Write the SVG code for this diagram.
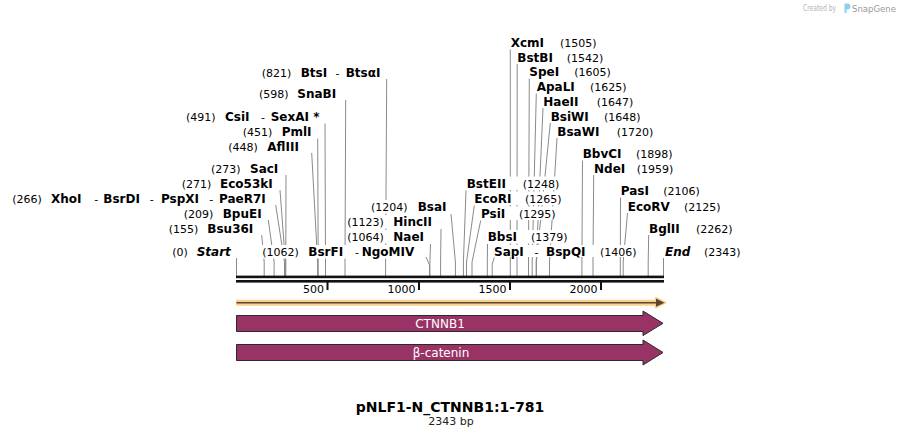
<svg xmlns="http://www.w3.org/2000/svg" width="901" height="437" viewBox="0 0 901 437">
<style>
text{font-family:"DejaVu Sans",Verdana,sans-serif;fill:#000}
.n{font-size:12px;font-weight:bold}
.p{font-size:11px}
.it{font-style:italic}
.ko{fill:#fff}
.ln{stroke:#8a8a8a;stroke-width:1;fill:none}
.tk{font-size:11px;text-anchor:end}
.feat{fill:#993366;stroke:#2a2a2a;stroke-width:1}
.ft{font-size:12px;fill:#fff;text-anchor:middle}
</style>
<rect width="901" height="437" fill="#fff"/>
<g id="watermark">
<text x="803" y="11" textLength="33" lengthAdjust="spacingAndGlyphs" style="font-size:8.5px;fill:#b4b4b4">Created by</text>
<path d="M844.5,3.5 h3 a3,3 0 0 1 0,6 h-1 v3.5 h-2 z" fill="#8fd0f0"/>
<text x="852" y="11.5" textLength="44" lengthAdjust="spacingAndGlyphs" style="font-size:9.5px;fill:#9a9a9a">SnapGene</text>
</g>
<g id="connectors">
<polyline class="ln" points="386.7,79 385.6,262 385.6,276"/>
<polyline class="ln" points="345.7,100 345,262 345,276"/>
<polyline class="ln" points="325,123.5 325.5,262 325.5,276"/>
<polyline class="ln" points="317.7,138.5 318.2,262 318.2,276"/>
<polyline class="ln" points="311.7,153 317.6,262 317.6,276"/>
<polyline class="ln" points="286,175 285.8,262 285.8,276"/>
<polyline class="ln" points="280,190 285.4,262 285.4,276"/>
<polyline class="ln" points="275.7,205 284.5,262 284.5,276"/>
<polyline class="ln" points="268.3,220 274.1,262 274.1,276"/>
<polyline class="ln" points="261.7,235 264.2,262 264.2,276"/>
<polyline class="ln" points="236.5,258 236.5,276"/>
<polyline class="ln" points="426,257 429.5,265 429.5,276"/>
<polyline class="ln" points="430.5,244 429.9,262 429.9,276"/>
<polyline class="ln" points="441,229 440.6,262 440.6,276"/>
<polyline class="ln" points="451,214 455.4,262 455.4,276"/>
<polyline class="ln" points="466,190.5 463.4,262 463.4,276"/>
<polyline class="ln" points="474.3,205.5 466.5,262 466.5,276"/>
<polyline class="ln" points="480.7,220.5 472,262 472,276"/>
<polyline class="ln" points="487.5,244 487.3,262 487.3,276"/>
<polyline class="ln" points="494.3,257.5 492.2,264 492.2,276"/>
<polyline class="ln" points="510.3,49.5 510.3,276"/>
<polyline class="ln" points="517.2,64 517,262 517,276"/>
<polyline class="ln" points="529.3,78.5 528.5,262 528.5,276"/>
<polyline class="ln" points="536.3,93.5 532.2,262 532.2,276"/>
<polyline class="ln" points="543,108 536.2,262 536.2,276"/>
<polyline class="ln" points="550.3,123 536.4,262 536.4,276"/>
<polyline class="ln" points="557,138 549.5,262 549.5,276"/>
<polyline class="ln" points="582.5,160.5 581.9,262 581.9,276"/>
<polyline class="ln" points="593.7,175 593,262 593,276"/>
<polyline class="ln" points="620.5,197.5 620.3,262 620.3,276"/>
<polyline class="ln" points="627.5,213 623.2,262 623.2,276"/>
<polyline class="ln" points="648.7,235 648.2,262 648.2,276"/>
<polyline class="ln" points="663.5,258 663.5,276"/>
</g>
<g id="lbl-BtsI"><rect class="ko" x="260" y="66" width="122" height="13.5"/><text y="77"><tspan class="p" x="261.7">(821)</tspan><tspan class="n" x="300.7">BtsI</tspan><tspan class="p" x="335.5">-</tspan><tspan class="n" x="345.7">BtsαI</tspan></text></g>
<g id="lbl-SnaBI"><rect class="ko" x="258" y="87" width="80" height="13.5"/><text y="98"><tspan class="p" x="259">(598)</tspan><tspan class="n" x="297.3">SnaBI</tspan></text></g>
<g id="lbl-CsiI"><rect class="ko" x="185" y="110" width="137" height="13.5"/><text y="121"><tspan class="p" x="186">(491)</tspan><tspan class="n" x="225">CsiI</tspan><tspan class="p" x="261">-</tspan><tspan class="n" x="270.7">SexAI *</tspan></text></g>
<g id="lbl-PmlI"><rect class="ko" x="241" y="125" width="73" height="13.5"/><text y="136"><tspan class="p" x="242.7">(451)</tspan><tspan class="n" x="281.7">PmlI</tspan></text></g>
<g id="lbl-AflIII"><rect class="ko" x="227" y="140" width="79" height="13.5"/><text y="151"><tspan class="p" x="228.3">(448)</tspan><tspan class="n" x="267.3">AflIII</tspan></text></g>
<g id="lbl-SacI"><rect class="ko" x="210" y="162" width="72" height="13.5"/><text y="173"><tspan class="p" x="211">(273)</tspan><tspan class="n" x="250">SacI</tspan></text></g>
<g id="lbl-Eco53kI"><rect class="ko" x="180" y="177" width="96" height="13.5"/><text y="188"><tspan class="p" x="181.7">(271)</tspan><tspan class="n" x="220">Eco53kI</tspan></text></g>
<g id="lbl-XhoI"><rect class="ko" x="11" y="192" width="258" height="13.5"/><text y="203"><tspan class="p" x="12.3">(266)</tspan><tspan class="n" x="51">XhoI</tspan><tspan class="p" x="94.3">-</tspan><tspan class="n" x="103.3">BsrDI</tspan><tspan class="p" x="149.7">-</tspan><tspan class="n" x="161">PspXI</tspan><tspan class="p" x="209.3">-</tspan><tspan class="n" x="219">PaeR7I</tspan></text></g>
<g id="lbl-BpuEI"><rect class="ko" x="182" y="207" width="81" height="13.5"/><text y="218"><tspan class="p" x="183.7">(209)</tspan><tspan class="n" x="222.7">BpuEI</tspan></text></g>
<g id="lbl-Bsu36I"><rect class="ko" x="167" y="222" width="90" height="13.5"/><text y="233"><tspan class="p" x="168.7">(155)</tspan><tspan class="n" x="207.3">Bsu36I</tspan></text></g>
<g id="lbl-Start"><rect class="ko" x="171" y="245" width="61" height="13.5"/><text y="256"><tspan class="p" x="172.3">(0)</tspan><tspan class="n it" x="196.7">Start</tspan></text></g>
<g id="lbl-NgoMIV"><rect class="ko" x="261" y="245" width="156" height="13.5"/><text y="256"><tspan class="p" x="262.3">(1062)</tspan><tspan class="n" x="308.3">BsrFI</tspan><tspan class="p" x="355">-</tspan><tspan class="n" x="361.7">NgoMIV</tspan></text></g>
<g id="lbl-NaeI"><rect class="ko" x="346" y="230" width="80" height="13.5"/><text y="241"><tspan class="p" x="347.3">(1064)</tspan><tspan class="n" x="393.3">NaeI</tspan></text></g>
<g id="lbl-HincII"><rect class="ko" x="346" y="215" width="91" height="13.5"/><text y="226"><tspan class="p" x="347.3">(1123)</tspan><tspan class="n" x="393.3">HincII</tspan></text></g>
<g id="lbl-BsaI"><rect class="ko" x="370" y="200" width="78" height="13.5"/><text y="211"><tspan class="p" x="371">(1204)</tspan><tspan class="n" x="417.7">BsaI</tspan></text></g>
<g id="lbl-BstEII"><rect class="ko" x="466.3" y="176.5" width="94" height="13.5"/><text y="187.5"><tspan class="n" x="466.7">BstEII</tspan><tspan class="p" x="522.7">(1248)</tspan></text></g>
<g id="lbl-EcoRI"><rect class="ko" x="474" y="191.5" width="88.5" height="13.5"/><text y="202.5"><tspan class="n" x="474.3">EcoRI</tspan><tspan class="p" x="525">(1265)</tspan></text></g>
<g id="lbl-PsiI"><rect class="ko" x="480.7" y="206.5" width="76" height="13.5"/><text y="217.5"><tspan class="n" x="481">PsiI</tspan><tspan class="p" x="519">(1295)</tspan></text></g>
<g id="lbl-BbsI"><rect class="ko" x="487.5" y="230" width="80.5" height="13.5"/><text y="241"><tspan class="n" x="487.7">BbsI</tspan><tspan class="p" x="531">(1379)</tspan></text></g>
<g id="lbl-SapI"><rect class="ko" x="493.8" y="245" width="143" height="12"/><text y="256"><tspan class="n" x="494">SapI</tspan><tspan class="p" x="534.5">-</tspan><tspan class="n" x="546">BspQI</tspan><tspan class="p" x="600">(1406)</tspan></text></g>
<g id="lbl-XcmI"><rect class="ko" x="510.6" y="36" width="87" height="13.5"/><text y="47"><tspan class="n" x="510.7">XcmI</tspan><tspan class="p" x="560">(1505)</tspan></text></g>
<g id="lbl-BstBI"><rect class="ko" x="517.2" y="50.7" width="87" height="13.3"/><text y="61.7"><tspan class="n" x="517.3">BstBI</tspan><tspan class="p" x="566.7">(1542)</tspan></text></g>
<g id="lbl-SpeI"><rect class="ko" x="529.2" y="65.3" width="82" height="13.2"/><text y="76.3"><tspan class="n" x="529.3">SpeI</tspan><tspan class="p" x="574.3">(1605)</tspan></text></g>
<g id="lbl-ApaLI"><rect class="ko" x="536.6" y="80" width="91" height="13.5"/><text y="91"><tspan class="n" x="536.7">ApaLI</tspan><tspan class="p" x="590">(1625)</tspan></text></g>
<g id="lbl-HaeII"><rect class="ko" x="543.2" y="94.5" width="91" height="13.5"/><text y="105.5"><tspan class="n" x="543.3">HaeII</tspan><tspan class="p" x="596.7">(1647)</tspan></text></g>
<g id="lbl-BsiWI"><rect class="ko" x="550.6" y="109.5" width="91" height="13.5"/><text y="120.5"><tspan class="n" x="550.7">BsiWI</tspan><tspan class="p" x="604">(1648)</tspan></text></g>
<g id="lbl-BsaWI"><rect class="ko" x="557.2" y="124.5" width="97" height="13.5"/><text y="135.5"><tspan class="n" x="557.3">BsaWI</tspan><tspan class="p" x="616.7">(1720)</tspan></text></g>
<g id="lbl-BbvCI"><rect class="ko" x="582.6" y="147" width="91" height="13.5"/><text y="158"><tspan class="n" x="582.7">BbvCI</tspan><tspan class="p" x="636">(1898)</tspan></text></g>
<g id="lbl-NdeI"><rect class="ko" x="593.9" y="161.5" width="80" height="13.5"/><text y="172.5"><tspan class="n" x="594">NdeI</tspan><tspan class="p" x="636.7">(1959)</tspan></text></g>
<g id="lbl-PasI"><rect class="ko" x="620.6" y="184" width="80" height="13.5"/><text y="195"><tspan class="n" x="620.7">PasI</tspan><tspan class="p" x="663.3">(2106)</tspan></text></g>
<g id="lbl-EcoRV"><rect class="ko" x="627.6" y="199.5" width="94" height="13.5"/><text y="210.5"><tspan class="n" x="627.7">EcoRV</tspan><tspan class="p" x="684">(2125)</tspan></text></g>
<g id="lbl-BglII"><rect class="ko" x="648.9" y="221.7" width="84" height="13.3"/><text y="232.7"><tspan class="n" x="649">BglII</tspan><tspan class="p" x="696">(2262)</tspan></text></g>
<g id="lbl-End"><rect class="ko" x="664.9" y="244.5" width="77" height="13.5"/><text y="255.5"><tspan class="n it" x="665">End</tspan><tspan class="p" x="704">(2343)</tspan></text></g>
<g id="ruler">
<rect x="236" y="275.6" width="428" height="2.6" fill="#111"/>
<rect x="236" y="280" width="428" height="2.6" fill="#111"/>
<rect x="326.5" y="282" width="2" height="8" fill="#111"/>
<rect x="418" y="282" width="2" height="8" fill="#111"/>
<rect x="509" y="282" width="2" height="8" fill="#111"/>
<rect x="600" y="282" width="2" height="8" fill="#111"/>
<text class="tk" x="324" y="293">500</text>
<text class="tk" x="415.5" y="293">1000</text>
<text class="tk" x="506.5" y="293">1500</text>
<text class="tk" x="597.5" y="293">2000</text>
</g>
<g id="orf">
<line x1="236" y1="302.7" x2="660" y2="302.7" stroke="#fbd08a" stroke-width="6"/>
<polygon points="656,298.3 665,302.7 656,307.1" fill="#5a4630" stroke="#fbd08a" stroke-width="2.5" stroke-linejoin="round"/>
<line x1="236.5" y1="302.7" x2="658" y2="302.7" stroke="#5a4630" stroke-width="1.6"/>
<polygon points="656,298.6 664.5,302.7 656,306.8" fill="#5a4630"/>
</g>
<g id="feat-CTNNB1">
<path class="feat" d="M236.5,315.5 H643 V311 L663,323.3 L643,335.6 V331.5 H236.5 Z"/>
<text class="ft" x="440" y="327.5">CTNNB1</text>
</g>
<g id="feat-bcatenin">
<path class="feat" d="M236.5,344.5 H643 V340 L663,352.5 L643,365 V360.5 H236.5 Z"/>
<text class="ft" x="441" y="356.5">β-catenin</text>
</g>
<g id="title">
<text x="450" y="412" style="font-size:14px;font-weight:bold;text-anchor:middle">pNLF1-N_CTNNB1:1-781</text>
<text x="451" y="425" style="font-size:11px;text-anchor:middle;fill:#222">2343 bp</text>
</g>
</svg>
